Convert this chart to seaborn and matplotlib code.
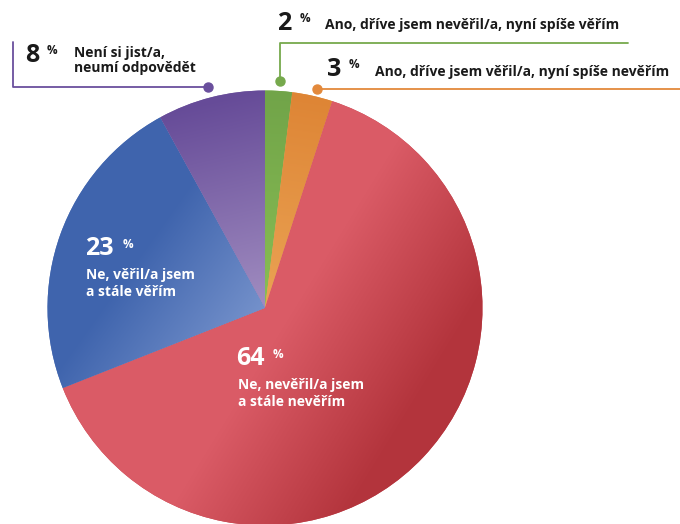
import numpy as np
import matplotlib
matplotlib.use("Agg")
import matplotlib.pyplot as plt
import matplotlib.colors as mcolors
import seaborn as sns

# Survey answers, clockwise from 12 o'clock
answers = [
    ["Ano, dříve jsem nevěřil/a, nyní spíše věřím"],
    ["Ano, dříve jsem věřil/a, nyní spíše nevěřím"],
    ["Ne, nevěřil/a jsem", "a stále nevěřím"],
    ["Ne, věřil/a jsem", "a stále věřím"],
    ["Není si jist/a,", "neumí odpovědět"],
]
shares = [2, 3, 64, 23, 8]
pct_labels = [f"{v}" for v in shares]

# Gradient endpoints for each slice (start colour, end colour)
grad_start = ["#71a449", "#de8535", "#da5b66", "#3f64ad", "#664b98"]
grad_end = ["#88bd53", "#eaa253", "#b3343c", "#7390ca", "#9f8bbf"]
# gradient axis for each slice, in pixel coordinates (x0, y0, x1, y1)
grad_axis = [
    (275, 92, 266, 300),
    (300, 95, 268, 300),
    (300, 300, 430, 380),
    (150, 240, 255, 315),
    (215, 100, 262, 300),
]

sns.set_theme(style="white")
plt.rcParams["font.family"] = ["Open Sans", "DejaVu Sans"]

W, H = 680, 524
fig = plt.figure(figsize=(W / 100, H / 100), dpi=100)
ax = fig.add_axes([0, 0, 1, 1])

cx, cy, R = 265, 308, 217.5
mid_cols = [sns.blend_palette([a, b], 3)[1] for a, b in zip(grad_start, grad_end)]
wedges, _ = ax.pie(shares, startangle=90, counterclock=False,
                   center=(cx, H - cy), radius=R, colors=mid_cols,
                   wedgeprops=dict(linewidth=0))

# overlay a linear gradient inside each wedge
yy, xx = np.mgrid[0:H, 0:W] + 0.5
for w, c0, c1, (x0, y0, x1, y1) in zip(wedges, grad_start, grad_end, grad_axis):
    dx, dy = x1 - x0, y1 - y0
    t = ((xx - x0) * dx + (yy - y0) * dy) / (dx * dx + dy * dy)
    t = np.clip(t, 0, 1)[..., None]
    a = np.array(mcolors.to_rgb(c0))
    b = np.array(mcolors.to_rgb(c1))
    img = a * (1 - t) + b * t
    im = ax.imshow(img, extent=(0, W, 0, H), origin="upper",
                   interpolation="bilinear", zorder=2)
    im.set_clip_path(w)

ax.set_xlim(0, W)
ax.set_ylim(0, H)
ax.set_aspect("equal")
ax.axis("off")

def Y(y):
    return H - y

# leader lines with end dots (pixel coordinates)
green, orange, purple = "#76a94c", "#e3893b", "#6a4f9d"
ax.plot([280, 280, 628], [Y(81), Y(43), Y(43)], color=green, lw=1.3, zorder=3)
ax.plot([280], [Y(81)], "o", color=green, ms=6.5, zorder=4)
ax.plot([317, 680], [Y(89), Y(89)], color=orange, lw=1.3, zorder=3)
ax.plot([317], [Y(89)], "o", color=orange, ms=6.5, zorder=4)
ax.plot([13, 13, 208], [Y(42), Y(87), Y(87)], color=purple, lw=1.3, zorder=3)
ax.plot([208], [Y(87)], "o", color=purple, ms=6.5, zorder=4)

# (number x, baseline y, percent-sign x, label x, first label baseline, colour)
label_pos = {
    0: (277, 30, 300, 325, 29, "#1a1a1a"),
    1: (327, 76, 349, 375, 76, "#1a1a1a"),
    2: (236, 365, 273, 238, 389, "white"),
    3: (85, 255, 123, 86, 279, "white"),
    4: (25, 62, 47, 74, 57, "#1a1a1a"),
}
line_gap = {0: 0, 1: 0, 2: 17, 3: 17, 4: 15}
num_size = 18
for i, (nx, ny, px, lx, ly, col) in label_pos.items():
    ax.text(nx, Y(ny), pct_labels[i], color=col, fontsize=num_size,
            fontweight="bold", ha="left", va="baseline", zorder=5)
    ax.text(px, Y(ny - 17.5), "%", color=col, fontsize=8.5, fontweight="bold",
            ha="left", va="top", zorder=5)
    for k, line in enumerate(answers[i]):
        ax.text(lx, Y(ly + k * line_gap[i]), line, color=col, fontsize=10,
                fontweight="bold", ha="left", va="baseline", zorder=5)

fig.savefig("out.png", dpi=100, facecolor="white")
